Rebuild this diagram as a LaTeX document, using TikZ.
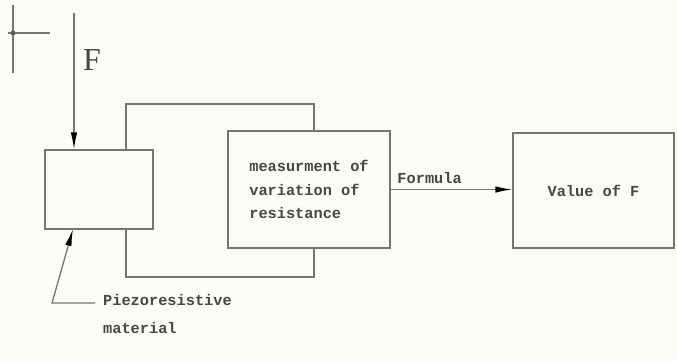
\documentclass[tikz,border=0pt]{standalone}
\usepackage{fontspec}
\setmainfont{Liberation Serif}
\setmonofont{Liberation Mono}
\usetikzlibrary{positioning,calc,arrows.meta}
\definecolor{paper}{RGB}{252,252,243}
\definecolor{wire}{RGB}{118,118,110}
\definecolor{ink}{RGB}{72,72,66}
\newcommand{\cadtext}{\fontsize{15.3}{23.5}\selectfont\ttfamily\bfseries}
\begin{document}
\begin{tikzpicture}[%
    x=1pt,y=-1pt,
    blank/.style={inner sep=0,draw=none,text=ink,font=\cadtext},
                    blockbox/.style={draw=wire,line width=1.3pt,fill=paper,minimum width=#1},
                    blockbox/.default=108pt,
                    wirearrow/.style={draw=wire,line width=1.3pt,-{Latex[length=17pt,width=6.5pt,color=black]}}
    ]
    \fill[paper] (0,0) rectangle (677,361);
    %%% Kruisje linksboven
    \draw[wire,line width=1.3pt] (13,5) -- (13,73) (8,33) -- (50,33);
    \fill[wire!80!black] (13,33) circle (2.5pt);
    %%% Blokken
    \node[blockbox,minimum height=79pt] (piezo) at (99,189.5) {};
    \node[blockbox=162pt,minimum height=117pt,align=left,text=ink,font=\cadtext] (meas) at (309,189.5)
        {measurment of\\variation of\\resistance};
    \node[blockbox=161pt,minimum height=115pt,text=ink,font=\cadtext] (value) at (593.5,190.5) {Value of F};
    %%% Kracht
    \coordinate (ftop) at (74,13);
    \node[blank,font=\fontsize{32}{32}\selectfont\rmfamily] (flabel) at (92,60) {F};
    %%% Labels piezo
    \node[blank,anchor=west] (piezo1) at (103,300) {Piezoresistive};
    \node[blank,below=16pt of piezo1.south west,anchor=north west] (piezo2) {material};
    \coordinate (pbend) at (52,303);
    \coordinate (ptip) at (73,229);
    %%% Lus
    \coordinate (ltop) at (126,104);
    \coordinate (lbot) at (126,277);
    \path[draw=wire,line width=1.3pt]
        (piezo.north -| ltop) -- (ltop) -| ([xshift=5pt]meas.north)
        (piezo.south -| lbot) -- (lbot) -| ([xshift=5pt]meas.south)
        ;
    %%% Pijlen
    \draw[wirearrow] (ftop) -- (piezo.north -| ftop);
    \draw[wirearrow] (meas.east) -- (meas.east -| value.west)
        node[blank,above=5pt,pos=0.32] (formula) {Formula};
    \draw[wirearrow] ([xshift=-8pt]piezo1.west |- pbend) -- (pbend) -- (ptip);
\end{tikzpicture}
\end{document}
